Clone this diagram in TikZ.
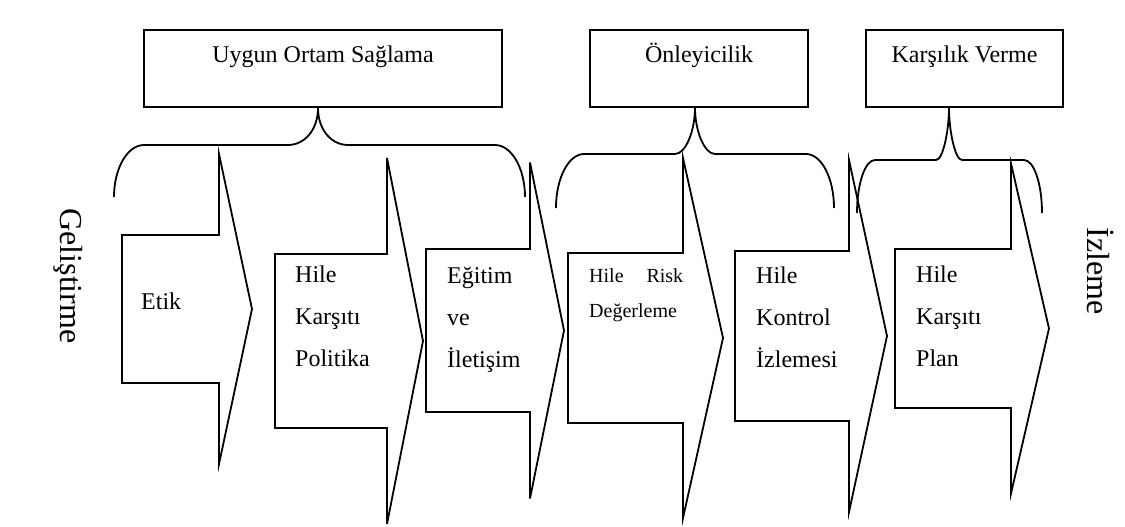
\documentclass[tikz,border=0pt]{standalone}
\usepackage{fontspec}
\setmainfont{Liberation Serif}
\tikzset{
  kutu/.style={draw, line width=1.8pt, inner sep=0pt, text height=33pt, text depth=44pt,
    font=\fontsize{24}{29}\selectfont},
  cizgi/.style={draw, line width=1.8pt},
  yazi/.style={font=\fontsize{24}{42}\selectfont, align=left, anchor=base west, inner sep=0pt},
  yan/.style={font=\fontsize{32}{38}\selectfont, rotate=-90, inner sep=0pt}
}
\begin{document}
\begin{tikzpicture}[x=1pt,y=-1pt]
\useasboundingbox (0,0) rectangle (1125,527);
% ust kutular
\node[kutu, minimum width=358pt] (ortam) at (323,68.5) {Uygun Ortam Sağlama};
\node[kutu, minimum width=218pt] (onley) at (699,68.5) {Önleyicilik};
\node[kutu, minimum width=197pt] (karsi) at (964.5,68.5) {Karşılık Verme};
% parantezler: kutu/sol uc/sag uc/uc x/duz y/bitis y/kose/uc genislik
\foreach \n/\xa/\xb/\xt/\h/\e/\c/\w in {ortam/114/525/318/145/197/30/30,
    onley/556/834/695/154/208/28/20, karsi/857/1042/949/160/213/18/13}
  \draw[cizgi] (\xa,\e) .. controls (\xa,{\e-0.552*(\e-\h)}) and ({\xa+0.448*\c},\h) .. (\xa+\c,\h)
    -- (\xt-\w,\h) .. controls +(0.55*\w,0) and +(0,22) .. (\n.south -| \xt,0)
    .. controls +(0,22) and +(-0.55*\w,0) .. (\xt+\w,\h) -- (\xb-\c,\h)
    .. controls ({\xb-0.448*\c},\h) and (\xb,{\e-0.552*(\e-\h)}) .. (\xb,\e);
% oklar: sol/govde sag/uc/ust/alt/yukseklik
\foreach \L/\M/\R/\T/\B/\a in {122/219/252/235/383/155, 275/387/423/254/428/183,
    426/530/564/249/412/168, 568/683/723/253/423/180,
    735/849/887/251/421/176, 895/1011/1049/249/408/165}
  \draw[cizgi] (\L,\T) -- (\M,\T) -- (\M,{(\T+\B)/2-\a}) -- (\R,{(\T+\B)/2})
    -- (\M,{(\T+\B)/2+\a}) -- (\M,\B) -- (\L,\B) -- cycle;
% ok yazilari (base = son satir)
\node[yazi] (etik) at (141,309) {Etik};
\node[yazi] (politika) at (295,366) {Hile\\Karşıtı\\Politika};
\node[yazi] (egitim) at (447,367) {Eğitim\\ve\\İletişim};
\node[yazi, font=\fontsize{20}{35}\selectfont] (risk) at (589,317) {\makebox[94pt][s]{Hile Risk}\\Değerleme};
\node[yazi] (kontrol) at (756,367) {Hile\\Kontrol\\İzlemesi};
\node[yazi] (plan) at (916,366) {Hile\\Karşıtı\\Plan};
% yan yazilar
\node[yan] (gelistirme) at (68,276) {Geliştirme};
\node[yan] (izleme) at (1101,271) {İzleme};
\end{tikzpicture}
\end{document}
